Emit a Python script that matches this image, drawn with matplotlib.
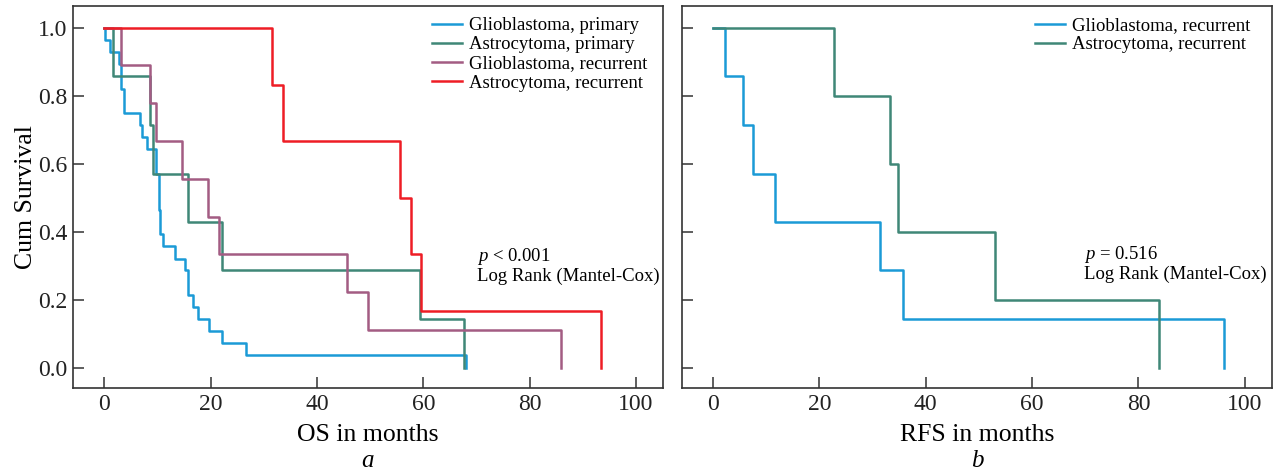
import matplotlib
matplotlib.use('Agg')
import matplotlib.pyplot as plt

plt.rcParams['font.family'] = ['Liberation Serif', 'DejaVu Serif']
plt.rcParams['mathtext.fontset'] = 'custom'
plt.rcParams['mathtext.rm'] = 'Liberation Serif'
plt.rcParams['mathtext.it'] = 'Liberation Serif:italic'

# --- OS (panel a) ---
gbm_prim_t = [0, 0.1, 1.0, 2.8, 3.1, 3.7, 6.7, 7.1, 8.1, 9.7, 10.2, 10.4, 11.1,
              13.3, 15.2, 15.7, 16.7, 17.6, 19.6, 22.2, 26.6, 68.1]
gbm_prim_s = [1.0, 0.964, 0.929, 0.893, 0.821, 0.750, 0.714, 0.679, 0.643, 0.571,
              0.464, 0.393, 0.357, 0.321, 0.286, 0.214, 0.179, 0.143, 0.107,
              0.071, 0.036, 0.0]
ast_prim_t = [0, 1.7, 8.6, 9.1, 15.8, 22.2, 59.4, 67.6]
ast_prim_s = [1.0, 0.857, 0.714, 0.571, 0.429, 0.286, 0.143, 0.0]
gbm_rec_t = [0, 3.2, 8.6, 9.7, 14.7, 19.5, 21.5, 45.6, 49.6, 85.9]
gbm_rec_s = [1.0, 0.889, 0.778, 0.667, 0.556, 0.444, 0.333, 0.222, 0.111, 0.0]
ast_rec_t = [0, 31.5, 33.6, 55.6, 57.6, 59.5, 93.4]
ast_rec_s = [1.0, 0.833, 0.667, 0.5, 0.333, 0.167, 0.0]

# --- RFS (panel b) ---
rfs_gbm_t = [0, 2.3, 5.7, 7.6, 11.7, 31.5, 35.7, 96.0]
rfs_gbm_s = [1.0, 0.857, 0.714, 0.571, 0.429, 0.286, 0.143, 0.0]
rfs_ast_t = [0, 22.8, 33.3, 34.8, 53.0, 83.9]
rfs_ast_s = [1.0, 0.8, 0.6, 0.4, 0.2, 0.0]

xticks = [0, 20, 40, 60, 80, 100]
yticks = [0.0, 0.2, 0.4, 0.6, 0.8, 1.0]

BLUE, GREEN, PURPLE, RED = '#1b9ad6', '#3f8777', '#a35c83', '#ee1d25'
AX_C = '#333333'

fig = plt.figure(figsize=(12.79, 4.74), dpi=100)
ax1 = fig.add_axes([73/1279, 1-388/474, 590/1279, 382/474])
ax2 = fig.add_axes([681.5/1279, 1-388/474, 590.5/1279, 382/474])

def style(ax, ylabels=True):
    ax.set_xlim(-5.9, 105.1)
    ax.set_ylim(-0.06, 1.064)
    ax.set_xticks(xticks)
    ax.set_yticks(yticks)
    ax.set_yticklabels([f'{v:.1f}' for v in yticks] if ylabels else [])
    ax.tick_params(direction='in', length=8, width=1.1, color=AX_C,
                   labelsize=17, labelcolor='#222222', pad=4)
    for sp in ax.spines.values():
        sp.set_color(AX_C); sp.set_linewidth(1.2)

leg_kw = dict(loc='upper left', frameon=False, fontsize=13.5, handlelength=1.6,
              handletextpad=0.4, labelspacing=0.11, borderpad=0, borderaxespad=0)

lw = 1.8
ax1.step(gbm_prim_t, gbm_prim_s, where='post', color=BLUE, lw=lw, label='Glioblastoma, primary')
ax1.step(ast_prim_t, ast_prim_s, where='post', color=GREEN, lw=lw, label='Astrocytoma, primary')
ax1.step(gbm_rec_t, gbm_rec_s, where='post', color=PURPLE, lw=lw, label='Glioblastoma, recurrent')
ax1.step(ast_rec_t, ast_rec_s, where='post', color=RED, lw=lw, label='Astrocytoma, recurrent')
style(ax1)
ax1.set_xlabel('OS in months', fontsize=18.5, labelpad=7)
ax1.set_ylabel('Cum Survival', fontsize=18.5, labelpad=1)
ax1.legend(bbox_to_anchor=((431.5-73)/590, 0.971), **leg_kw)
ax1.text(70.1, 0.326, r'$p$ < 0.001', fontsize=13.5, va='center')
ax1.text(70.1, 0.268, 'Log Rank (Mantel-Cox)', fontsize=13.5, va='center')

ax2.step(rfs_gbm_t, rfs_gbm_s, where='post', color=BLUE, lw=lw, label='Glioblastoma, recurrent')
ax2.step(rfs_ast_t, rfs_ast_s, where='post', color=GREEN, lw=lw, label='Astrocytoma, recurrent')
style(ax2, ylabels=False)
ax2.set_xlabel('RFS in months', fontsize=18.5, labelpad=7)
ax2.legend(bbox_to_anchor=((1035-681.5)/590.5, 0.971), **leg_kw)
ax2.text(69.7, 0.332, r'$p$ = 0.516', fontsize=13.5, va='center')
ax2.text(69.7, 0.273, 'Log Rank (Mantel-Cox)', fontsize=13.5, va='center')

fig.text(368/1279, 1-461/474, 'a', fontsize=18, style='italic', ha='center', va='center')
fig.text(977/1279, 1-461/474, 'b', fontsize=18, style='italic', ha='center', va='center')

fig.savefig('out.png', dpi=100)
